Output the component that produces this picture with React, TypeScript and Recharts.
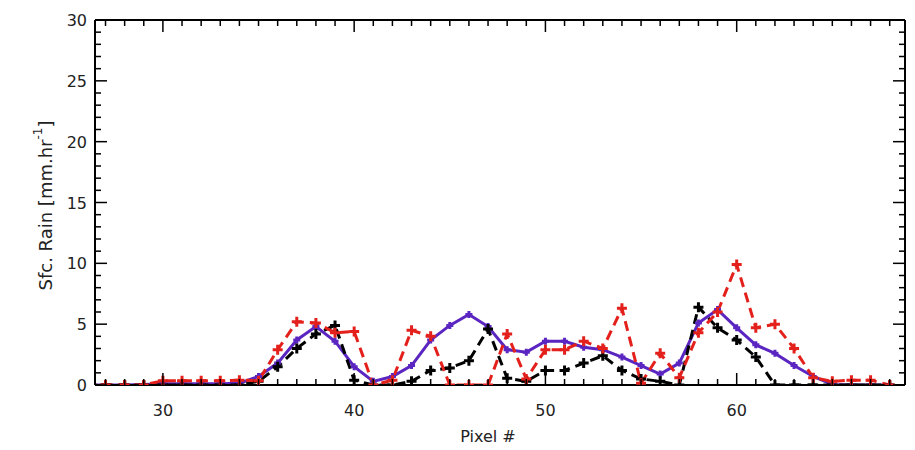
import { Label, Line, LineChart, XAxis, YAxis } from 'recharts'

// pixel index along the scan
const pixels = [26, 27, 28, 29, 30, 31, 32, 33, 34, 35, 36, 37, 38, 39, 40, 41, 42, 43, 44, 45, 46, 47,
  48, 49, 50, 51, 52, 53, 54, 55, 56, 57, 58, 59, 60, 61, 62, 63, 64, 65, 66, 67, 68]

// surface rain rate, mm/hr
const rainBlack = [0, 0, 0, 0, 0, 0, 0, 0, 0, 0.3, 1.5, 3.0, 4.2, 4.9, 0.4, 0, 0, 0.3, 1.2, 1.4, 2.0, 4.6,
  0.55, 0.3, 1.2, 1.2, 1.8, 2.4, 1.2, 0.5, 0.3, 0, 6.4, 4.7, 3.7, 2.3, 0, 0, 0, 0, 0, 0, 0]
const rainRed = [0, 0, 0, 0, 0.35, 0.35, 0.35, 0.35, 0.4, 0.35, 2.9, 5.2, 5.1, 4.3, 4.4, 0, 0.4, 4.5, 4.0, 0, 0, 0,
  4.2, 0.5, 2.9, 2.9, 3.6, 3.0, 6.3, 0.15, 2.6, 0.6, 4.3, 6.0, 9.9, 4.7, 5.0, 3.0, 0.6, 0.3, 0.4, 0.4, 0]
const rainPurple = [0, 0, 0, 0.05, 0.1, 0.1, 0.1, 0.1, 0.15, 0.7, 1.8, 3.7, 4.8, 3.6, 1.5, 0.3, 0.7, 1.6, 3.7, 4.9, 5.8, 4.8,
  2.9, 2.7, 3.6, 3.6, 3.1, 2.9, 2.3, 1.6, 0.9, 1.8, 5.1, 6.2, 4.7, 3.3, 2.6, 1.6, 0.7, 0.05, 0, 0, 0]

const xTicks = [27, 28, 29, 30, 31, 32, 33, 34, 35, 36, 37, 38, 39, 40, 41, 42, 43, 44, 45, 46, 47, 48,
  49, 50, 51, 52, 53, 54, 55, 56, 57, 58, 59, 60, 61, 62, 63, 64, 65, 66, 67, 68]
const xMajor = [30, 40, 50, 60]
const yTicks = [0, 1, 2, 3, 4, 5, 6, 7, 8, 9, 10, 11, 12, 13, 14, 15, 16, 17, 18, 19, 20, 21, 22, 23, 24, 25,
  26, 27, 28, 29, 30]
const yMajor = [0, 5, 10, 15, 20, 25, 30]

const data = pixels.map((p, i) => ({
  pixel: p,
  black: rainBlack[i],
  red: rainRed[i],
  purple: rainPurple[i],
}))

const X_DOMAIN = [26.45, 68.8]
const FONT = '"DejaVu Sans", sans-serif'
const TEXT = '#222'
const PURPLE = '#5a25c0'
const RED = '#e3201b'

function plusDot(color: string, half: number) {
  return (p: any) => {
    const { cx, cy, index } = p
    if (cx == null || cy == null) return <g key={`d-${index}`} />
    return (
      <path
        key={`d-${index}`}
        d={`M${cx - half},${cy}H${cx + half}M${cx},${cy - half}V${cy + half}`}
        stroke={color}
        strokeWidth={3}
        fill="none"
      />
    )
  }
}

function BottomTick({ x, y, payload }: any) {
  const axisY = y - 14
  const major = xMajor.includes(payload.value)
  return (
    <g>
      <line x1={x} x2={x} y1={axisY} y2={axisY - (major ? 12 : 6)} stroke="#000" strokeWidth={1.5} />
      {major && (
        <text x={x} y={axisY + 31} textAnchor="middle" fontFamily={FONT} fontSize={16} fill={TEXT}>
          {payload.value}
        </text>
      )}
    </g>
  )
}

function TopTick({ x, y, payload }: any) {
  const major = xMajor.includes(payload.value)
  return <line x1={x} x2={x} y1={y} y2={y + (major ? 12 : 6)} stroke="#000" strokeWidth={1.5} />
}

function LeftTick({ x, y, payload }: any) {
  const axisX = x + 8
  const major = yMajor.includes(payload.value)
  return (
    <g>
      <line x1={axisX} x2={axisX + (major ? 12 : 6)} y1={y} y2={y} stroke="#000" strokeWidth={1.5} />
      {major && (
        <text x={x} y={y} dy={6} textAnchor="end" fontFamily={FONT} fontSize={16} fill={TEXT}>
          {payload.value}
        </text>
      )}
    </g>
  )
}

function RightTick({ x, y, payload }: any) {
  const major = yMajor.includes(payload.value)
  return <line x1={x} x2={x - (major ? 12 : 6)} y1={y} y2={y} stroke="#000" strokeWidth={1.5} />
}

function YTitle({ viewBox }: any) {
  const cx = 45
  const cy = viewBox.y + viewBox.height / 2 + 3
  return (
    <text
      x={cx}
      y={cy}
      transform={`rotate(-90, ${cx}, ${cy})`}
      textAnchor="middle"
      dominantBaseline="central"
      fontFamily={FONT}
      fontSize={18}
      fill={TEXT}
    >
      Sfc. Rain [mm.hr<tspan dy={-7} fontSize={12}>-1</tspan><tspan dy={7}>]</tspan>
    </text>
  )
}

export default function App() {
  return (
    <div style={{ position: 'absolute', left: 0, top: 0, width: 915, height: 450, background: '#fff' }}>
      <LineChart width={915} height={450} data={data} margin={{ top: 0, right: 0, bottom: 0, left: 35 }}>
        <XAxis
          xAxisId="bottom"
          dataKey="pixel"
          type="number"
          domain={X_DOMAIN}
          allowDataOverflow
          ticks={xTicks}
          interval={0}
          height={65}
          tickSize={0}
          tickMargin={14}
          tickLine={false}
          axisLine={{ stroke: '#000', strokeWidth: 2 }}
          tick={<BottomTick />}
        >
          <Label value="Pixel #" position="insideBottom" offset={8} dx={-12} fontFamily={FONT} fontSize={16} fill={TEXT} />
        </XAxis>
        <XAxis
          xAxisId="top"
          orientation="top"
          dataKey="pixel"
          type="number"
          domain={X_DOMAIN}
          allowDataOverflow
          ticks={xTicks}
          interval={0}
          height={20}
          tickSize={0}
          tickMargin={0}
          tickLine={false}
          axisLine={{ stroke: '#000', strokeWidth: 2 }}
          tick={<TopTick />}
        />
        <YAxis
          yAxisId="left"
          type="number"
          domain={[0, 30]}
          allowDataOverflow
          ticks={yTicks}
          interval={0}
          width={60}
          tickSize={0}
          tickMargin={8}
          tickLine={false}
          axisLine={{ stroke: '#000', strokeWidth: 2 }}
          tick={<LeftTick />}
        >
          <Label content={<YTitle />} />
        </YAxis>
        <YAxis
          yAxisId="right"
          orientation="right"
          type="number"
          domain={[0, 30]}
          allowDataOverflow
          ticks={yTicks}
          interval={0}
          width={10}
          tickSize={0}
          tickMargin={0}
          tickLine={false}
          axisLine={{ stroke: '#000', strokeWidth: 2 }}
          tick={<RightTick />}
        />
        <Line
          xAxisId="bottom"
          yAxisId="left"
          type="linear"
          dataKey="purple"
          stroke={PURPLE}
          strokeWidth={3}
          dot={plusDot(PURPLE, 3.5)}
          isAnimationActive={false}
        />
        <Line
          xAxisId="bottom"
          yAxisId="left"
          type="linear"
          dataKey="black"
          stroke="#000"
          strokeWidth={3}
          strokeDasharray="10 6"
          dot={plusDot('#000', 5)}
          isAnimationActive={false}
        />
        <Line
          xAxisId="bottom"
          yAxisId="left"
          type="linear"
          dataKey="red"
          stroke={RED}
          strokeWidth={3}
          strokeDasharray="10 6"
          dot={plusDot(RED, 5)}
          isAnimationActive={false}
        />
      </LineChart>
    </div>
  )
}
